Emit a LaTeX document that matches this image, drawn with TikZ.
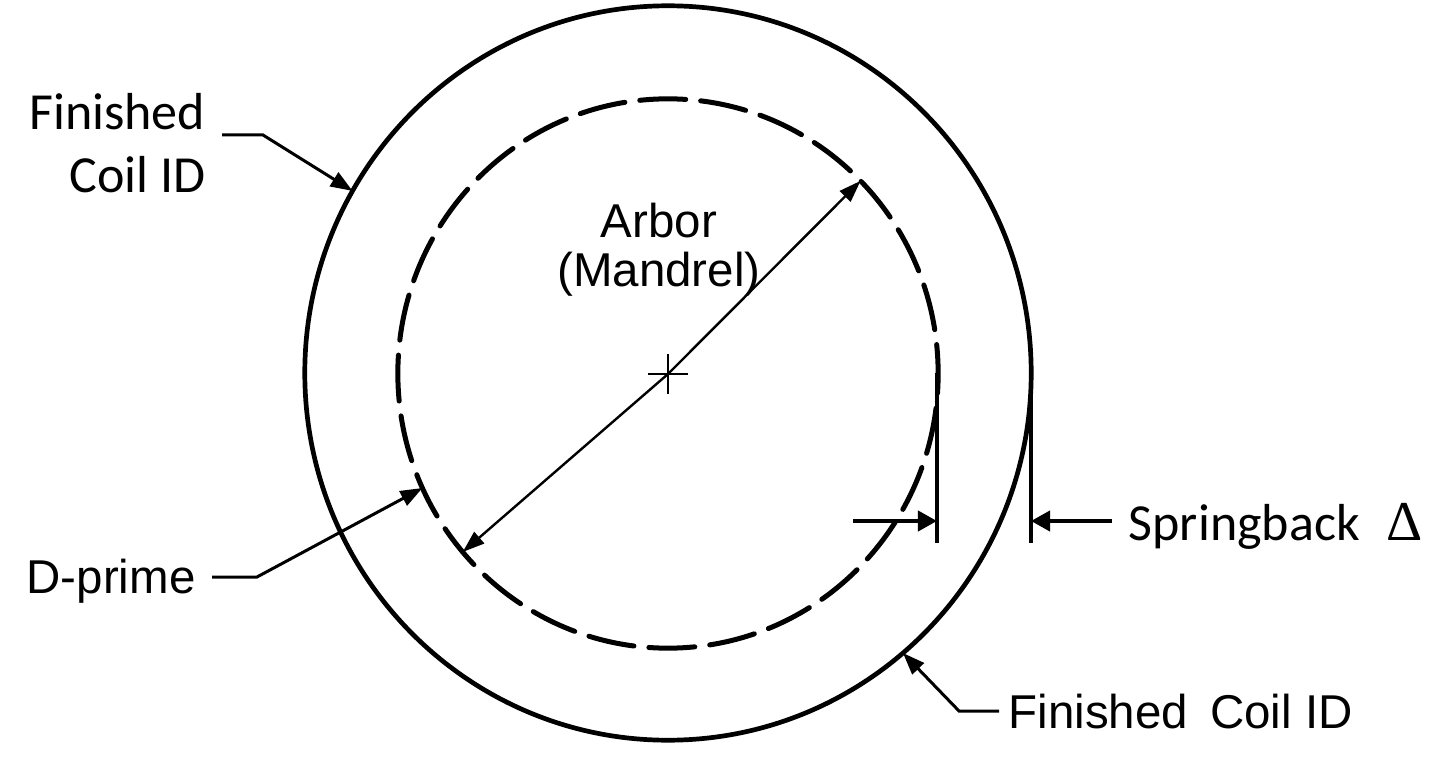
\documentclass[tikz,border=0pt]{standalone}
\usepackage{fontspec}
\setmainfont{Liberation Sans}
\newfontfamily\calibrifont{Carlito}
\newfontfamily\deltafont{Liberation Serif}
\usetikzlibrary{arrows.meta,shapes.geometric}
\begin{document}
\begin{tikzpicture}[x=0.01cm,y=-0.01cm]
\tikzstyle{coil_style} = [ellipse, draw=black, line width=0.047cm, inner sep=0, outer sep=0]
\tikzstyle{arbor_style} = [coil_style, line width=0.05cm, line cap=round, dash pattern=on 0.46cm off 0.15cm, dash phase=0.17cm]
\tikzstyle{leader_style} = [-{Triangle[length=0.22cm,width=0.16cm]}, black, line width=0.03cm]
\tikzstyle{gap_style} = [-{Triangle[length=0.19cm,width=0.2cm]}, black, line width=0.04cm]
\tikzstyle{dia_style} = [-{Triangle[length=0.22cm,width=0.15cm]}, black, line width=0.024cm]
\tikzstyle{arial_style} = [font=\fontsize{13.5}{14}\selectfont, inner sep=0]
\tikzstyle{calibri_style} = [font=\calibrifont\fontsize{14.8}{17.9}\selectfont, inner sep=0]
    \useasboundingbox (0,0) rectangle (1445,773);

    \node[coil_style, minimum width=7.26cm, minimum height=7.34cm] (outer) at (668,373) {};
    \node[arbor_style, minimum width=5.40cm, minimum height=5.49cm] (inner) at (668,373.5) {};

    % centre mark
    \coordinate (center) at (668,374);
    \coordinate (c1) at (648,374);
    \coordinate (c2) at (688,374);
    \coordinate (c3) at (668,354);
    \coordinate (c4) at (668,394);
    \draw[line width=0.022cm] (c1) -- (c2);
    \draw[line width=0.022cm] (c3) -- (c4);

    % diameter
    \draw[dia_style] (center) -- (inner.45);
    \draw[dia_style] (center) -- (inner.221);

    \node[arial_style, align=center] (arbor) at (659,250) {Arbor\\(Mandrel)};

    % top left label
    \node[calibri_style, align=right, anchor=east] (finished) at (206,143.5) {Finished\\Coil ID};
    \coordinate (f1) at (222,135);
    \coordinate (f2) at (263,135);
    \draw[leader_style] (f1) -- (f2) -- (outer.150);

    % D-prime
    \node[arial_style, anchor=base west] (dprime) at (26,593) {D-prime};
    \coordinate (d1) at (212,577);
    \coordinate (d2) at (257,577);
    \draw[leader_style] (d1) -- (d2) -- (inner.205);

    % bottom label
    \node[arial_style, anchor=base west] (coil) at (1008,728) {Finished\hspace{0.09cm} Coil ID};
    \coordinate (b1) at (999,711);
    \coordinate (b2) at (959,711);
    \draw[leader_style] (b1) -- (b2) -- (outer.310);

    % springback
    \coordinate (l1) at (937,373);
    \coordinate (l2) at (937,521);
    \coordinate (l3) at (937,543);
    \coordinate (r1) at (1031,350);
    \coordinate (r2) at (1031,521);
    \coordinate (r3) at (1031,543);
    \coordinate (a1) at (853,521);
    \coordinate (a2) at (1112,521);
    \draw[line width=0.04cm] (l1) -- (l3);
    \draw[line width=0.04cm] (r1) -- (r3);
    \draw[gap_style] (a1) -- (l2);
    \draw[gap_style] (a2) -- (r2);

    \node[calibri_style, anchor=base west] (spring) at (1128,540) {Springback\hspace{0.27cm}{\deltafont\fontsize{16}{16}\selectfont Δ}};
\end{tikzpicture}
\end{document}
